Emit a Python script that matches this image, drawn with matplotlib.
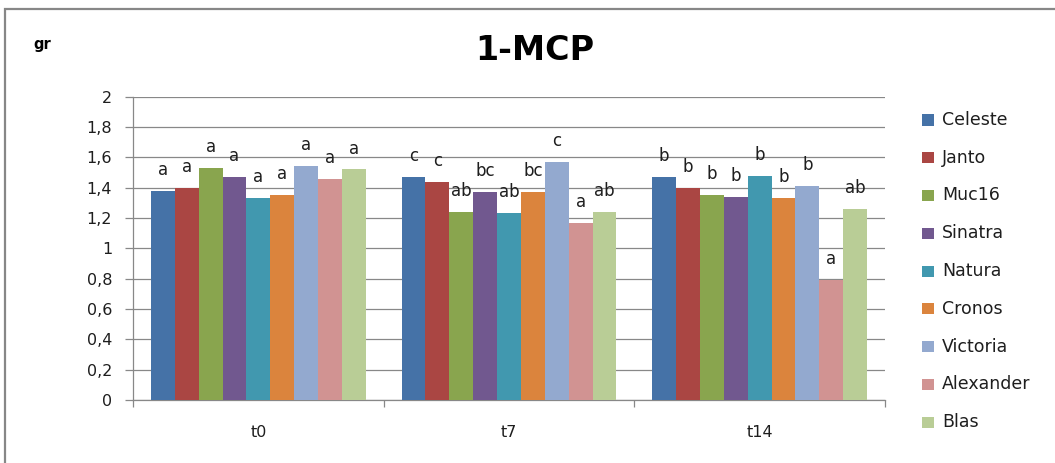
import matplotlib
matplotlib.use("Agg")
import matplotlib.pyplot as plt
from matplotlib.patches import Rectangle
import numpy as np

plt.rcParams['font.family'] = ['DejaVu Sans']

times = ["t0", "t7", "t14"]
cultivars = ["Celeste", "Janto", "Muc16", "Sinatra", "Natura",
             "Cronos", "Victoria", "Alexander", "Blas"]
colors = ["#4572A7", "#AA4643", "#89A54E", "#71588F", "#4198AF",
          "#DB843D", "#93A9CF", "#D19392", "#B9CD96"]

# weight (gr) per cultivar at t0, t7, t14
weights = {
    "Celeste":   [1.38, 1.47, 1.47],
    "Janto":     [1.40, 1.44, 1.40],
    "Muc16":     [1.53, 1.24, 1.35],
    "Sinatra":   [1.47, 1.37, 1.34],
    "Natura":    [1.33, 1.23, 1.48],
    "Cronos":    [1.35, 1.37, 1.33],
    "Victoria":  [1.54, 1.57, 1.41],
    "Alexander": [1.46, 1.17, 0.79],
    "Blas":      [1.52, 1.24, 1.26],
}
# significance letters per cultivar at t0, t7, t14
letters = {
    "Celeste":   ["a", "c", "b"],
    "Janto":     ["a", "c", "b"],
    "Muc16":     ["a", "ab", "b"],
    "Sinatra":   ["a", "bc", "b"],
    "Natura":    ["a", "ab", "b"],
    "Cronos":    ["a", "bc", "b"],
    "Victoria":  ["a", "c", "b"],
    "Alexander": ["a", "a", "a"],
    "Blas":      ["a", "ab", "ab"],
}

W, H = 1055, 463
txt_c = "#1e1e1e"
grid_c = "#888888"
fig = plt.figure(figsize=(W / 100, H / 100), dpi=100)

# chart area border (cut off on the right and bottom)
fig.patches.append(Rectangle((5 / W, -0.1), 1.2, (H - 9) / H + 0.1,
                             transform=fig.transFigure, fill=False,
                             edgecolor="#878787", linewidth=1.6))

ax = fig.add_axes([133 / W, (H - 400) / H, (885 - 133) / W, (400 - 96.7) / H])

n = len(cultivars)
group_w = 0.857
bar_w = group_w / n
centers = np.arange(len(times)) + 0.5
for i, name in enumerate(cultivars):
    xs = centers - group_w / 2 + bar_w * (i + 0.5)
    ax.bar(xs, weights[name], width=bar_w, color=colors[i], label=name,
           zorder=3)
    for x, v, lab in zip(xs, weights[name], letters[name]):
        ax.annotate(lab, (x, v), xytext=(0, 11.5), textcoords="offset points",
                    ha="center", va="baseline", fontsize=12, color=txt_c,
                    zorder=4)

ax.set_xlim(0, 3)
ax.set_ylim(0, 2)
yt = np.arange(0, 2.01, 0.2)
ax.set_yticks(yt)
ax.set_yticklabels([("%.1f" % v).replace(".", ",").replace(",0", "")
                    for v in yt])
ax.yaxis.grid(True, color=grid_c, linewidth=0.9, zorder=0)
ax.set_axisbelow(True)
ax.tick_params(axis="y", length=6, width=0.9, color=grid_c, pad=9,
               labelsize=11.5, labelcolor=txt_c)

ax.set_xticks(centers)
ax.set_xticklabels(times)
ax.set_xticks([0, 1, 2, 3], minor=True)
ax.tick_params(axis="x", which="major", length=0, pad=18, labelsize=11.5,
               labelcolor=txt_c)
ax.tick_params(axis="x", which="minor", length=5, width=0.9, color=grid_c)

for s in ["top", "right"]:
    ax.spines[s].set_visible(False)
for s in ["left", "bottom"]:
    ax.spines[s].set_color(grid_c)
    ax.spines[s].set_linewidth(0.9)

# legend: colour square + name, one row per cultivar
for i, (name, c) in enumerate(zip(cultivars, colors)):
    yc = 120 + 37.75 * i
    fig.patches.append(Rectangle((922 / W, (H - yc - 5.5) / H), 12 / W, 11 / H,
                                 transform=fig.transFigure, facecolor=c,
                                 edgecolor="none"))
    fig.text(942 / W, (H - yc) / H, name, ha="left", va="center",
             fontsize=12.5, color=txt_c)

fig.text(535 / W, (H - 50) / H, "1-MCP", ha="center", va="center",
         fontsize=24, fontweight="bold")
fig.text(33 / W, (H - 45) / H, "gr", ha="left", va="center",
         fontsize=10.5, fontweight="bold")

fig.savefig("out.png", dpi=100)
